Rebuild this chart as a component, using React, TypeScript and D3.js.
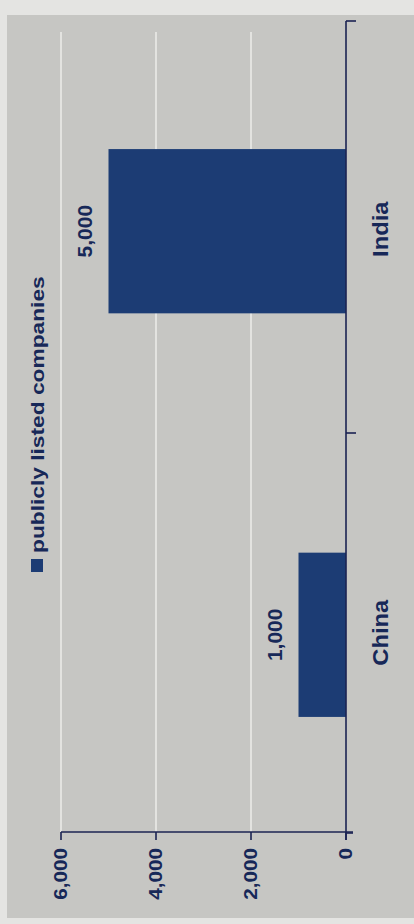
import React from "react";
import * as d3 from "d3";

const categories = ["India", "China"];
const listedCompanies = [5000, 1000];
const valueTicks = [0, 2000, 4000, 6000];
const seriesName = "publicly listed companies";

const W = 414;
const H = 924;
const NAVY = "#172858";
const BAR = "#1c3c74";
const AXIS = "#1b2352";
const FONT = "'Liberation Sans', Arial, sans-serif";

export default function App() {
  // value axis runs horizontally (chart photographed rotated)
  const x = d3.scaleLinear().domain([0, 6000]).range([346, 61]);
  const y = d3
    .scaleBand<string>()
    .domain(categories)
    .range([28, 838])
    .paddingInner(0.593)
    .paddingOuter(0.3);
  const fmt = d3.format(",");
  const axisY = 832;
  const boundaries = [21, (y("India")! + y.bandwidth() + y("China")!) / 2, 833];

  const rot = (cx: number, cy: number, sx = 1) =>
    `translate(${cx},${cy}) rotate(-90) scale(${sx},1)`;

  return (
    <div style={{ position: "fixed", left: 0, top: 0 }}>
      <svg width={W} height={H} style={{ display: "block" }}>
        <rect x={0} y={0} width={W} height={H} fill="#e4e4e2" />
        <rect x={7} y={15} width={W - 7} height={903} fill="#c6c6c3" />

        {/* gridlines */}
        {valueTicks
          .filter((t) => t !== 0)
          .map((t) => (
            <line
              key={"g" + t}
              x1={x(t)}
              x2={x(t)}
              y1={32}
              y2={axisY}
              stroke="#ececea"
              strokeWidth={1.5}
            />
          ))}

        {/* bars */}
        {categories.map((c, i) => (
          <rect
            key={"b" + c}
            x={x(listedCompanies[i])}
            y={y(c)!}
            width={x(0) - x(listedCompanies[i])}
            height={y.bandwidth()}
            fill={BAR}
          />
        ))}

        {/* value axis */}
        <line x1={x(6000)} x2={353} y1={axisY} y2={axisY} stroke={AXIS} strokeWidth={1.6} />
        {valueTicks.map((t) => (
          <g key={"t" + t}>
            <line x1={x(t)} x2={x(t)} y1={axisY} y2={axisY + 8} stroke={AXIS} strokeWidth={1.6} />
            <text
              transform={rot(x(t), axisY + 16, 1.15)}
              textAnchor="end"
              dy="0.36em"
              fontFamily={FONT}
              fontWeight="bold"
              fontSize={18}
              fill={NAVY}
            >
              {fmt(t)}
            </text>
          </g>
        ))}

        {/* category axis */}
        <line x1={x(0)} x2={x(0)} y1={21} y2={axisY + 8} stroke={AXIS} strokeWidth={1.6} />
        {boundaries.map((b, i) => (
          <line
            key={"ct" + i}
            x1={x(0)}
            x2={x(0) + (i === 2 ? 7 : 10)}
            y1={b}
            y2={b}
            stroke={AXIS}
            strokeWidth={1.6}
          />
        ))}
        {categories.map((c) => (
          <text
            key={"c" + c}
            transform={rot(380, y(c)! + y.bandwidth() / 2 - 2, 1.08)}
            textAnchor="middle"
            dy="0.36em"
            fontFamily={FONT}
            fontWeight="bold"
            fontSize={22}
            fill={NAVY}
          >
            {c}
          </text>
        ))}

        {/* data labels */}
        {categories.map((c, i) => (
          <text
            key={"d" + c}
            transform={rot(x(listedCompanies[i]) - 24, y(c)! + y.bandwidth() / 2, 1.05)}
            textAnchor="middle"
            dy="0.36em"
            fontFamily={FONT}
            fontWeight="bold"
            fontSize={20}
            fill={NAVY}
          >
            {fmt(listedCompanies[i])}
          </text>
        ))}

        {/* legend */}
        <rect x={31} y={559} width={12} height={13} fill={BAR} />
        <text
          transform={rot(38, 553, 1.3)}
          textAnchor="start"
          dy="0.36em"
          fontFamily={FONT}
          fontWeight="bold"
          fontSize={17.5}
          fill={NAVY}
        >
          {seriesName}
        </text>
      </svg>
    </div>
  );
}
